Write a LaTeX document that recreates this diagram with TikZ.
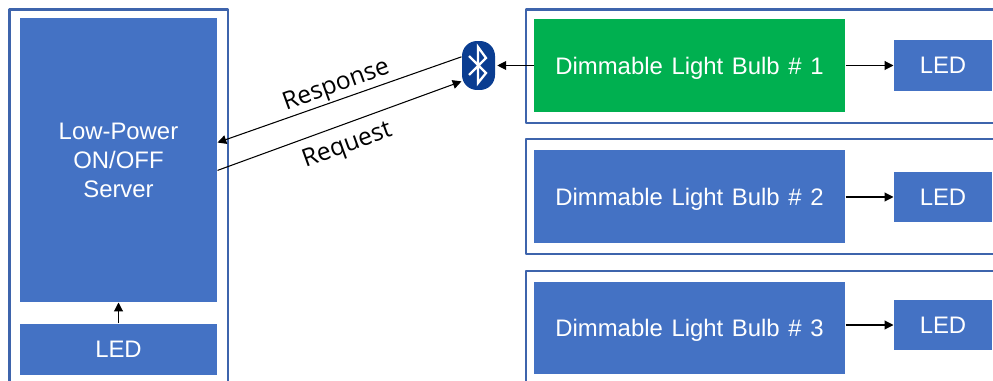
\documentclass[tikz,border=0pt]{standalone}
\usetikzlibrary{arrows.meta}
\usepackage{fontspec}
\setmainfont[WordSpace=1.3]{Liberation Sans}
\newfontfamily\labelfont{Open Sans}
\definecolor{boxblue}{HTML}{4472C4}
\definecolor{boxgreen}{HTML}{00B050}
\definecolor{frameblue}{HTML}{3E64AC}
\definecolor{btblue}{HTML}{0A3D91}
\tikzset{
 bluebox/.style={fill=boxblue,text=white,inner sep=0pt,align=center,font=\fontsize{13.6}{16.5}\selectfont},
 bulbbox/.style={bluebox,minimum width=6.22cm,minimum height=1.86cm,text depth=0pt},
 ledbox/.style={bluebox,minimum width=1.96cm,minimum height=1.02cm},
 framebox/.style={draw=frameblue,line width=1.3pt},
 linklabel/.style={font=\labelfont\fontsize{14}{16}\selectfont,inner sep=0pt,rotate=20}
}
\begin{document}
\begin{tikzpicture}[>={Triangle[length=5pt,width=5pt]},line width=0.6pt,line join=round,x=0.02cm,y=-0.02cm]
 \useasboundingbox (0,0) rectangle (993,381);
 % frames, open where they leave the page
 \draw[framebox] (9.5,381)--(9.5,9.5)--(228,9.5)--(228,381);
 \draw[framebox] (993,9.5)--(526,9.5)--(526,123)--(993,123);
 \draw[framebox] (993,139)--(526,139)--(526,254)--(993,254);
 \draw[framebox] (993,271)--(526,271)--(526,381);
 % left side
 \node[bluebox,minimum width=3.94cm,minimum height=5.68cm] (server) at (118.5,160) {Low-Power\\ON/OFF\\Server};
 \node[bluebox,minimum width=3.94cm,minimum height=1.02cm] (ledleft) at (118.5,349.5) {LED};
 % right side
 \node[bulbbox,fill=boxgreen] (bulba) at (689.5,65.5) {Dimmable Light Bulb \# 1};
 \node[bulbbox] (bulbb) at (689.5,196.5) {Dimmable Light Bulb \# 2};
 \node[bulbbox] (bulbc) at (689.5,328) {Dimmable Light Bulb \# 3};
 \node[ledbox] (leda) at (943,65.5) {LED};
 \node[ledbox] (ledb) at (943,197) {LED};
 \node[ledbox] (ledc) at (943,325) {LED};
 % bluetooth badge
 \node[fill=btblue,rounded corners=0.3cm,minimum width=0.66cm,minimum height=0.98cm,inner sep=0pt] (bt) at (478.5,65.5) {};
 \draw[white,line width=1.3pt,line join=miter] (469,56)--(486,73)--(478,83)--(478,47)--(486,58)--(469,75);
 % connectors
 \draw[->] (ledleft)--(server);
 \draw[->] (bulba)--(leda);
 \draw[->] (bulbb.east|-ledb)--(ledb);
 \draw[->] (bulbc.east|-ledc)--(ledc);
 \draw[->,shorten >=1pt] (bulba)--(bt);
 \draw[->] (bt.153)--(server.10.35);
 \draw[->] (server.-6.95)--(bt.223);
 \node[linklabel] (resp) at (336.5,86) {Response};
 \node[linklabel] (reqt) at (347.5,146) {Request};
\end{tikzpicture}
\end{document}
